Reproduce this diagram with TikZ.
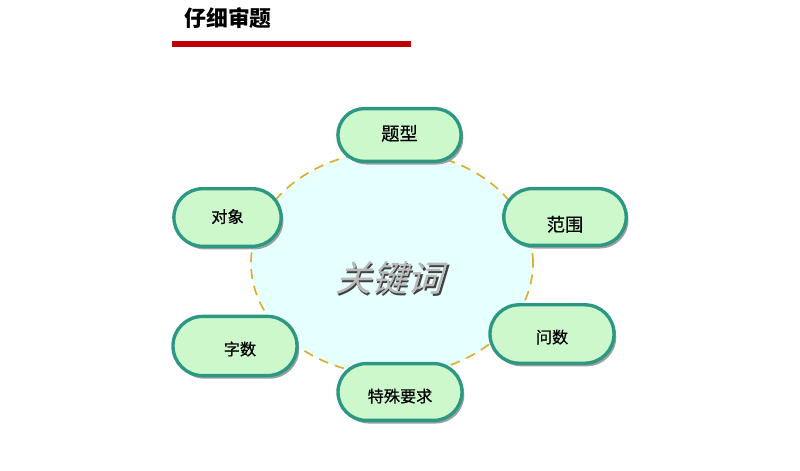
\documentclass[tikz,border=0pt]{standalone}
\usepackage{fontspec}
\newfontfamily\cjk{Noto Sans CJK SC}
\newfontfamily\cjkm[FakeBold=0.6]{Noto Sans CJK SC}
\usepackage{tikz}
\usetikzlibrary{shapes.geometric, shapes.misc, shadows, positioning}
\usepackage[usenames,dvipsnames]{xcolor}
\definecolor{myred}{HTML}{BE0000}
\definecolor{boxfill}{HTML}{CCF8CC}
\definecolor{boxline}{HTML}{2C9884}
\definecolor{ringfill}{HTML}{E6FFFF}
\definecolor{ringline}{HTML}{DDAE30}
\tikzset{
	keybox/.style={rounded rectangle, draw=boxline, line width=2.4pt, fill=boxfill,
		minimum width=3.1cm, minimum height=1.38cm, inner sep=0pt,
		text height=9pt, text depth=1.5pt,
		font=\cjkm\fontsize{11.5pt}{12pt}\selectfont,
		drop shadow={shadow xshift=1.6pt, shadow yshift=-2.2pt, fill=gray!75, opacity=1}},
	bigbox/.style={keybox, font=\cjkm\fontsize{13pt}{14pt}\selectfont},
	lower/.style={text height=9pt+2*#1}
}

\begin{document}
\begin{tikzpicture}[x=0.025cm,y=-0.025cm]
			\useasboundingbox (0,0) rectangle (800,470);
			% title
			\node (title) at (228,18) {\cjk\bfseries\fontsize{15.5pt}{16pt}\selectfont 仔细审题};
			\draw [myred, line width=3.6pt] (172,44) -- (411,44);
			% ring
			\node [ellipse, draw=ringline, fill=ringfill, line width=1.2pt, dash pattern=on 7pt off 5pt,
				minimum width=7.05cm, minimum height=5.6cm, inner sep=0pt] (ring) at (392,263) {};
			\node [xslant=0.3, black!75] (kwshadow) at (394.5,279.5) {\cjk\fontsize{25.5pt}{26pt}\selectfont 关键词};
			\node [xslant=0.3, gray!55] (kw) at (393,278) {\cjk\fontsize{25.5pt}{26pt}\selectfont 关键词};
			% boxes
			\node [bigbox, minimum width=3.08cm, minimum height=1.32cm] (type) at (399.5,135) {题型};
			\node [bigbox, lower=6.4pt, minimum width=3.06cm, minimum height=1.42cm] (range) at (565,217) {范围};
			\node [keybox, lower=2.8pt, minimum height=1.46cm] (ask) at (552,334) {问数};
			\node [keybox, lower=3.5pt, minimum height=1.42cm] (special) at (400,392) {特殊要求};
			\node [keybox, lower=2.8pt, minimum height=1.48cm] (count) at (235,346) {\hspace{7pt}字数};
			\node [keybox, minimum width=2.68cm, minimum height=1.44cm] (object) at (227.5,217.5) {对象};
		\end{tikzpicture}
\end{document}
